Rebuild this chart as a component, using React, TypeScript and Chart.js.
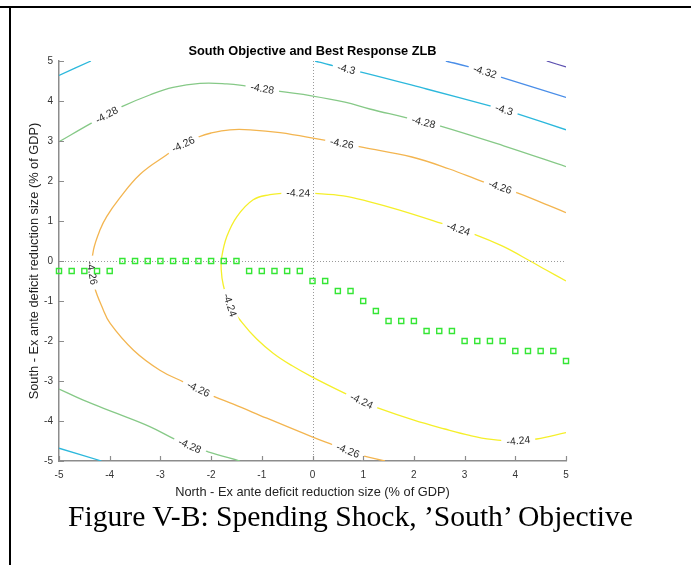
import React, { useEffect, useRef } from "react";
import { Chart, registerables } from "chart.js";

Chart.register(...registerables);

const FONT = '"Liberation Sans", Arial, Helvetica, sans-serif';

// ---- axes ----
const xTickValues = [-5, -4, -3, -2, -1, 0, 1, 2, 3, 4, 5];
const xTickLabels = ["-5", "-4", "-3", "-2", "-1", "0", "1", "2", "3", "4", "5"];
const yTickValues = [-5, -4, -3, -2, -1, 0, 1, 2, 3, 4, 5];
const yTickLabels = ["-5", "-4", "-3", "-2", "-1", "0", "1", "2", "3", "4", "5"];

const chartTitle = "South Objective and Best Response ZLB";
const xTitle = "North - Ex ante deficit reduction size (% of GDP)";
const yTitle = "South - Ex ante deficit reduction size (% of GDP)";
const caption = "Figure V-B: Spending Shock, \u2019South\u2019 Objective";

// ---- best response (green squares) ----
const brNorth = [
  -5, -4.75, -4.5, -4.25, -4, -3.75, -3.5, -3.25, -3, -2.75, -2.5, -2.25, -2, -1.75, -1.5,
  -1.25, -1, -0.75, -0.5, -0.25, 0, 0.25, 0.5, 0.75, 1, 1.25, 1.5, 1.75, 2, 2.25, 2.5, 2.75,
  3, 3.25, 3.5, 3.75, 4, 4.25, 4.5, 4.75, 5,
];
const brSouth = [
  -0.25, -0.25, -0.25, -0.25, -0.25, 0, 0, 0, 0, 0, 0, 0, 0, 0, 0,
  -0.25, -0.25, -0.25, -0.25, -0.25, -0.5, -0.5, -0.75, -0.75, -1, -1.25, -1.5, -1.5, -1.5, -1.75, -1.75, -1.75,
  -2, -2, -2, -2, -2.25, -2.25, -2.25, -2.25, -2.5,
];

// ---- contour curves [north, south] ----
const c424 = [
  [5, -0.5], [4.6, -0.22], [4.32, -0.02], [3.75, 0.37], [3.17, 0.68], [2.55, 0.94], [1.7, 1.28],
  [1.13, 1.48], [0.61, 1.63], [0.05, 1.69], [-0.3, 1.7], [-0.61, 1.69], [-0.84, 1.66], [-1.17, 1.53],
  [-1.49, 1.11], [-1.69, 0.61], [-1.79, 0.1], [-1.8, -0.22], [-1.76, -0.6], [-1.63, -1.1], [-1.4, -1.52],
  [-1.1, -1.95], [-0.77, -2.31], [-0.4, -2.62], [-0.02, -2.89], [0.64, -3.31], [1.0, -3.52], [1.3, -3.68],
  [2.0, -3.98], [2.61, -4.2], [3.1, -4.36], [3.53, -4.46], [4.0, -4.5], [4.42, -4.45], [5, -4.29],
];
const c426 = [
  [5, 1.21], [4.39, 1.53], [4.0, 1.72], [3.7, 1.85], [3.37, 1.98], [2.7, 2.3], [1.96, 2.6], [1.0, 2.84],
  [0.58, 2.94], [0.15, 3.04], [-0.64, 3.21], [-1.23, 3.28], [-1.63, 3.28], [-2.0, 3.2], [-2.25, 3.1],
  [-2.55, 2.92], [-2.88, 2.65], [-3.4, 2.17], [-3.83, 1.53], [-4.06, 1.11], [-4.19, 0.78], [-4.32, 0.28],
  [-4.36, -0.2], [-4.3, -0.65], [-4.15, -1.15], [-3.99, -1.56], [-3.53, -2.23], [-3.01, -2.73],
  [-2.55, -3.02], [-2.25, -3.2], [-1.96, -3.38], [-1.56, -3.58], [-0.9, -3.93], [-0.02, -4.39],
  [0.41, -4.6], [0.72, -4.75], [1.0, -4.87], [1.43, -5],
];
const c428Upper = [
  [-5, 2.98], [-4.37, 3.44], [-4.06, 3.65], [-3.76, 3.86], [-3.21, 4.15], [-2.75, 4.34], [-2.22, 4.44],
  [-1.69, 4.43], [-1.33, 4.38], [-0.99, 4.31], [-0.64, 4.24], [-0.02, 4.13], [0.64, 3.97], [1.13, 3.8],
  [1.82, 3.59], [2.19, 3.47], [2.51, 3.38], [3.77, 2.88], [5, 2.36],
];
const c428Lower = [
  [-5, -3.2], [-4.52, -3.48], [-3.86, -3.81], [-3.21, -4.14], [-2.71, -4.46], [-2.42, -4.62],
  [-2.06, -4.77], [-1.43, -5],
];
const c430TopLeft = [[-5, 4.64], [-4.37, 5]];
const c430Top = [
  [0.05, 5], [0.35, 4.9], [0.67, 4.8], [1.0, 4.71], [2.25, 4.3], [3.5, 3.88], [3.78, 3.78], [4.06, 3.67], [5, 3.28],
];
const c430Bottom = [[-5, -4.68], [-4.16, -5]];
const c432 = [[2.63, 5], [3.07, 4.86], [3.4, 4.73], [3.73, 4.59], [5, 4.09]];
const c434 = [[4.62, 5], [5, 4.85]];

// ---- inline contour labels (positions along curves) ----
const lab424 = [[-0.28, 1.7], [2.88, 0.8], [-1.63, -1.1], [0.97, -3.5], [4.06, -4.5]];
const lab426 = [[3.7, 1.85], [0.58, 2.94], [-2.55, 2.92], [-4.36, -0.3], [-2.25, -3.2], [0.7, -4.74]];
const lab428Upper = [[-4.06, 3.65], [-0.99, 4.31], [2.19, 3.47]];
const lab428Lower = [[-2.42, -4.62]];
const lab430Top = [[0.67, 4.8], [3.78, 3.78]];
const lab432 = [[3.4, 4.73]];

type Curve = { text: string; color: string; points: number[][]; labels: number[][] };

const curves: Curve[] = [
  { text: "-4.24", color: "#f5ef2a", points: c424, labels: lab424 },
  { text: "-4.26", color: "#f3b550", points: c426, labels: lab426 },
  { text: "-4.28", color: "#86c987", points: c428Upper, labels: lab428Upper },
  { text: "-4.28", color: "#86c987", points: c428Lower, labels: lab428Lower },
  { text: "-4.3", color: "#2cb8dc", points: c430TopLeft, labels: [] },
  { text: "-4.3", color: "#2cb8dc", points: c430Top, labels: lab430Top },
  { text: "-4.3", color: "#2cb8dc", points: c430Bottom, labels: [] },
  { text: "-4.32", color: "#4a8ee8", points: c432, labels: lab432 },
  { text: "-4.34", color: "#5b4fb0", points: c434, labels: [] },
];

const AXIS_COLOR = "#8c8c8c";

const labelPlugin = {
  id: "contourLabels",
  afterDatasetDraw(chart: any, args: any) {
    if (args.index !== 1) return;
    const { ctx, chartArea, scales } = chart;
    const xs = scales.x;
    const ys = scales.y;
    ctx.save();
    ctx.beginPath();
    ctx.rect(chartArea.left, chartArea.top, chartArea.right - chartArea.left, chartArea.bottom - chartArea.top);
    ctx.clip();
    ctx.font = `10.5px ${FONT}`;
    ctx.textAlign = "center";
    ctx.textBaseline = "middle";
    for (const c of curves) {
      const pts = c.points.map(([a, b]) => [xs.getPixelForValue(a), ys.getPixelForValue(b)]);
      for (const [lx, ly] of c.labels) {
        const qx = xs.getPixelForValue(lx);
        const qy = ys.getPixelForValue(ly);
        let best = { d: Infinity, x: qx, y: qy, a: 0 };
        for (let i = 0; i < pts.length - 1; i++) {
          const [ax, ay] = pts[i];
          const [bx, by] = pts[i + 1];
          const dx = bx - ax;
          const dy = by - ay;
          const l2 = dx * dx + dy * dy;
          let t = l2 ? ((qx - ax) * dx + (qy - ay) * dy) / l2 : 0;
          t = Math.max(0, Math.min(1, t));
          const cx = ax + t * dx;
          const cy = ay + t * dy;
          const d = (cx - qx) ** 2 + (cy - qy) ** 2;
          if (d < best.d) best = { d, x: cx, y: cy, a: Math.atan2(dy, dx) };
        }
        let ang = best.a;
        if (ang > Math.PI / 2) ang -= Math.PI;
        if (ang <= -Math.PI / 2) ang += Math.PI;
        const w = ctx.measureText(c.text).width;
        ctx.save();
        ctx.translate(best.x, best.y);
        ctx.rotate(ang);
        ctx.fillStyle = "#ffffff";
        ctx.fillRect(-w / 2 - 5, -4, w + 10, 8);
        ctx.fillStyle = "#2a2a2a";
        ctx.fillText(c.text, 0, 0.5);
        ctx.restore();
      }
    }
    ctx.restore();

    // dotted zero lines
    ctx.save();
    ctx.strokeStyle = "#9a9a9a";
    ctx.lineWidth = 1;
    ctx.setLineDash([1, 2]);
    const x0 = Math.round(xs.getPixelForValue(0)) + 0.5;
    const y0 = Math.round(ys.getPixelForValue(0)) + 0.5;
    ctx.beginPath();
    ctx.moveTo(x0, ys.getPixelForValue(5));
    ctx.lineTo(x0, ys.getPixelForValue(-5));
    ctx.moveTo(xs.getPixelForValue(-5), y0);
    ctx.lineTo(xs.getPixelForValue(5), y0);
    ctx.stroke();
    ctx.restore();
  },
  afterDraw(chart: any) {
    const { ctx, chartArea, scales } = chart;
    ctx.save();
    ctx.strokeStyle = AXIS_COLOR;
    ctx.lineWidth = 1.2;
    ctx.beginPath();
    for (const v of xTickValues) {
      const px = Math.round(scales.x.getPixelForValue(v)) + 0.5;
      ctx.moveTo(px, chartArea.bottom);
      ctx.lineTo(px, chartArea.bottom - 5);
    }
    for (const v of yTickValues) {
      const py = Math.round(scales.y.getPixelForValue(v)) + 0.5;
      ctx.moveTo(chartArea.left, py);
      ctx.lineTo(chartArea.left + 5, py);
    }
    ctx.stroke();
    ctx.restore();
  },
};

export default function App() {
  const ref = useRef<HTMLCanvasElement | null>(null);

  useEffect(() => {
    if (!ref.current) return;
    Chart.defaults.font.family = FONT;
    const datasets: any[] = [
      {
        label: "Best response",
        data: brNorth.map((x, i) => ({ x, y: brSouth[i] })),
        showLine: false,
        pointStyle: "rect",
        pointRadius: 3.6,
        borderColor: "#35e635",
        backgroundColor: "rgba(0,0,0,0)",
        borderWidth: 1.4,
        clip: false,
      },
      ...curves.map((c) => ({
        label: c.text,
        data: c.points.map(([x, y]) => ({ x, y })),
        borderColor: c.color,
        borderWidth: 1.3,
        pointRadius: 0,
        tension: 0.4,
        fill: false,
      })),
    ];

    const chart = new Chart(ref.current, {
      type: "line",
      data: { datasets },
      plugins: [labelPlugin],
      options: {
        responsive: false,
        animation: false,
        events: [],
        layout: { padding: { left: 26.3, top: 43.8, right: 125, bottom: 0 } },
        plugins: {
          legend: { display: false },
          tooltip: { enabled: false },
          title: {
            display: true,
            fullSize: false,
            text: chartTitle,
            color: "#000",
            font: { size: 12.8, weight: "bold", family: FONT },
            padding: { top: 0, bottom: 1.84 },
          },
        },
        scales: {
          x: {
            type: "linear",
            min: -5,
            max: 5,
            afterBuildTicks: (s: any) => {
              s.ticks = xTickValues.map((v) => ({ value: v }));
            },
            ticks: {
              callback: (v: any) => xTickLabels[xTickValues.indexOf(Number(v))],
              color: "#333",
              font: { size: 10 },
              padding: 8,
              maxRotation: 0,
              autoSkip: false,
            },
            grid: { display: false, drawTicks: false },
            border: { display: true, color: AXIS_COLOR, width: 1.5 },
            title: { display: true, text: xTitle, color: "#222", font: { size: 12.8 }, padding: 0 },
            afterFit: (s: any) => {
              s.height = 39;
            },
          },
          y: {
            type: "linear",
            min: -5,
            max: 5,
            afterBuildTicks: (s: any) => {
              s.ticks = yTickValues.map((v) => ({ value: v }));
            },
            ticks: {
              callback: (v: any) => yTickLabels[yTickValues.indexOf(Number(v))],
              color: "#333",
              font: { size: 10 },
              padding: 6,
              autoSkip: false,
            },
            grid: { display: false, drawTicks: false },
            border: { display: true, color: AXIS_COLOR, width: 1.5 },
            title: { display: true, text: yTitle, color: "#222", font: { size: 12.8 }, padding: 0 },
            afterFit: (s: any) => {
              s.width = 32.7;
            },
          },
        },
      } as any,
    });
    return () => chart.destroy();
  }, []);

  return (
    <div style={{ position: "absolute", left: 0, top: 0, width: 691, height: 565, background: "#fff", overflow: "hidden" }}>
      <canvas ref={ref} width={691} height={500} style={{ position: "absolute", left: 0, top: 0, width: 691, height: 500 }} />
      <div style={{ position: "absolute", left: 0, top: 6, width: 691, height: 2, background: "#000" }} />
      <div style={{ position: "absolute", left: 9, top: 6, width: 2, height: 559, background: "#000" }} />
      <div
        style={{
          position: "absolute",
          left: 0,
          top: 502,
          width: 701,
          textAlign: "center",
          fontFamily: '"Liberation Serif", "Times New Roman", serif',
          fontSize: 29.6,
          lineHeight: "29.6px",
          color: "#000",
          whiteSpace: "nowrap",
        }}
      >
        {caption}
      </div>
    </div>
  );
}
